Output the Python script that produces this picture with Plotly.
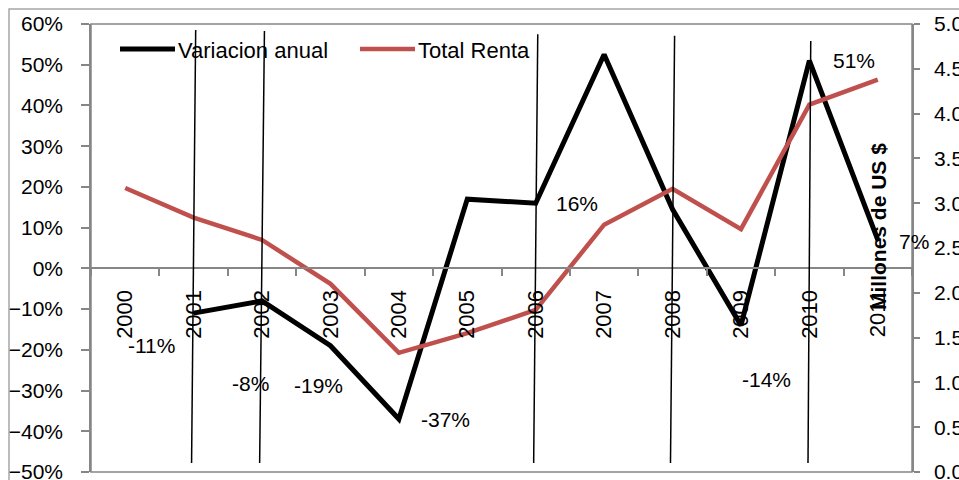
import plotly.graph_objects as go

# ---------------- data ----------------
years = ["2000", "2001", "2002", "2003", "2004", "2005",
         "2006", "2007", "2008", "2009", "2010", "2011"]
variacion_anual = [None, -0.11, -0.08, -0.19, -0.37, 0.17,
                   0.16, 0.525, 0.145, -0.14, 0.51, 0.07]
total_renta = [3.17, 2.84, 2.59, 2.10, 1.33, 1.55,
               1.81, 2.76, 3.16, 2.71, 4.10, 4.38]

left_ticks = [-0.5, -0.4, -0.3, -0.2, -0.1, 0.0, 0.1, 0.2, 0.3, 0.4, 0.5, 0.6]
right_ticks = [0.0, 0.5, 1.0, 1.5, 2.0, 2.5, 3.0, 3.5, 4.0, 4.5, 5.0]

# data labels shown in the chart and their pixel offsets
labelled_years = ["2001", "2002", "2003", "2004", "2006", "2009", "2010", "2011"]
label_offsets = {"2001": (-42, -32), "2002": (-12, -83), "2003": (-12, -40),
                 "2004": (47, 0), "2006": (41, 0), "2009": (26, -54),
                 "2010": (45, 0), "2011": (36, -2)}

# hand-drawn thin vertical marker lines (year, top on left axis, skew)
marker_years = ["2001", "2002", "2006", "2008", "2010"]
marker_style = {"2001": (0.585, 0.03), "2002": (0.583, 0.035), "2006": (0.575, 0.03),
                "2008": (0.571, 0.03), "2010": (0.558, 0.02)}

FONT = "Liberation Sans, Arial, sans-serif"
AXC = "#868686"
RED = "#C0504D"

W, H = 959, 480
L, R, T, B = 91, 47, 24, 8
PW, PH = W - L - R, H - T - B


def px_x(p):
    return (p - L) / PW


def px_y(p):
    return (H - B - p) / PH


fig = go.Figure()
fig.add_trace(go.Scatter(x=years, y=total_renta, mode="lines", yaxis="y2",
                         line=dict(color=RED, width=4.5), name="Total Renta",
                         showlegend=False))
fig.add_trace(go.Scatter(x=years, y=variacion_anual, mode="lines",
                         line=dict(color="black", width=5), name="Variacion anual",
                         showlegend=False, connectgaps=False))

annotations = []
for yr in labelled_years:
    v = variacion_anual[years.index(yr)]
    dx, dy = label_offsets[yr]
    annotations.append(dict(x=years.index(yr), y=v, xref="x", yref="y",
                            text=f"{round(v*100):d}%", showarrow=False,
                            xanchor="center", yanchor="middle",
                            xshift=dx, yshift=dy,
                            font=dict(family=FONT, size=21, color="black")))

# right axis title placed inside the plot
annotations.append(dict(x=px_x(878), y=px_y(227), xref="paper", yref="paper",
                        text="<b>Millones de US $</b>", textangle=-90, showarrow=False,
                        xanchor="center", yanchor="middle",
                        font=dict(family=FONT, size=21, color="black")))

# manual legend
shapes = []
legend_items = [("Variacion anual", "black", 120, 175, 5), ("Total Renta", RED, 360, 415, 4.5)]
for name, col, x0, x1, w in legend_items:
    shapes.append(dict(type="line", xref="paper", yref="paper",
                       x0=px_x(x0), x1=px_x(x1), y0=px_y(49), y1=px_y(49),
                       line=dict(color=col, width=w)))
    annotations.append(dict(x=px_x(x1 + 1), y=px_y(50), xref="paper", yref="paper",
                            text=name, showarrow=False, xanchor="left", yanchor="middle",
                            font=dict(family=FONT, size=22, color="black")))

# plot area border
shapes.append(dict(type="rect", xref="paper", yref="paper", x0=0, x1=1, y0=0, y1=1,
                   line=dict(color=AXC, width=1.5), layer="below"))
# outer chart border
shapes.append(dict(type="rect", xref="paper", yref="paper",
                   x0=px_x(9), x1=px_x(975), y0=px_y(500), y1=px_y(9),
                   line=dict(color="#a6a6a6", width=1.5), layer="below"))

# thin vertical marker lines
for yr in marker_years:
    top, skew = marker_style[yr]
    i = years.index(yr)
    shapes.append(dict(type="line", xref="x", yref="y",
                       x0=i + skew, y0=top, x1=i - skew, y1=-0.478,
                       line=dict(color="black", width=1.5), layer="above"))

fig.update_layout(
    width=W, height=H,
    margin=dict(l=L, r=R, t=T, b=B, autoexpand=False),
    paper_bgcolor="white", plot_bgcolor="white",
    showlegend=False,
    font=dict(family=FONT, size=21, color="black"),
    xaxis=dict(type="category", range=[-0.5, 11.5], anchor="free",
               position=0.5 / 1.1, showline=True, linecolor=AXC, linewidth=1.5,
               ticks="outside", tickson="boundaries", ticklen=7, tickcolor=AXC,
               tickwidth=1.5, tickangle=-90, ticklabelstandoff=12,
               tickfont=dict(family=FONT, size=22, color="black"),
               showgrid=False, zeroline=False, automargin=False),
    yaxis=dict(range=[-0.5, 0.6], tickvals=left_ticks, tickformat=".0%",
               showline=True, linecolor=AXC, linewidth=1.5, ticks="outside",
               ticklen=8, tickcolor=AXC, tickwidth=1.5, ticklabelstandoff=14,
               ticklabeloverflow="allow",
               tickfont=dict(family=FONT, size=21, color="black"),
               showgrid=False, zeroline=False, automargin=False),
    yaxis2=dict(range=[0, 5], tickvals=right_ticks, tickformat=".1f",
                overlaying="y", side="right", showline=True, linecolor=AXC,
                linewidth=1.5, ticks="outside", ticklen=6, tickcolor=AXC,
                tickwidth=1.5, ticklabelstandoff=10, ticklabeloverflow="allow",
                tickfont=dict(family=FONT, size=21, color="black"),
                showgrid=False, zeroline=False, automargin=False),
    shapes=shapes,
    annotations=annotations,
)

fig.write_html("out.html", config={"displayModeBar": False})

# remove the default page margin so the figure sits at the window origin
with open("out.html", "r", encoding="utf-8") as f:
    html = f.read()
html = html.replace("<body>", '<body style="margin:0;overflow:hidden">', 1)
with open("out.html", "w", encoding="utf-8") as f:
    f.write(html)
